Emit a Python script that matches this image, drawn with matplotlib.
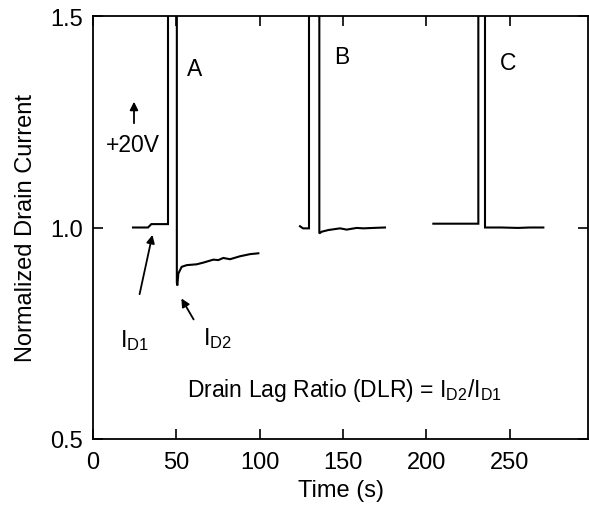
import matplotlib
matplotlib.use("Agg")
import matplotlib.pyplot as plt

plt.rcParams["font.family"] = ["Liberation Sans", "DejaVu Sans"]
plt.rcParams["mathtext.default"] = "regular"

# pulse A: baseline, +20V pulse (off scale), then slow recovery
t_a = [24, 33, 35, 45, 45, 50.3, 50.3, 50.6, 51.2, 53.2, 56.2, 62.2, 66.2,
       72.2, 75.2, 78.2, 82.2, 88.2, 94.2, 99.2]
v_a = [1.0, 1.0, 1.008, 1.008, 1.6, 1.6, 0.87, 0.863, 0.891, 0.907, 0.911,
       0.913, 0.917, 0.924, 0.923, 0.928, 0.925, 0.932, 0.937, 0.939]

# pulse B
t_b = [124.2, 126, 128.4, 129.6, 129.6, 135.8, 135.8, 137.2, 141.2, 148.2,
       152.2, 158.2, 162.2, 168.2, 175.2]
v_b = [1.003, 0.998, 0.998, 0.998, 1.6, 1.6, 0.986, 0.990, 0.994, 0.998,
       0.995, 0.999, 0.998, 0.999, 1.0]

# pulse C
t_c = [204.2, 231.2, 231.2, 235.2, 235.2, 245, 255, 262, 270.2]
v_c = [1.009, 1.009, 1.6, 1.6, 1.0, 1.0, 0.999, 1.0, 1.0]

x_ticks = [0, 50, 100, 150, 200, 250]
y_ticks = [0.5, 1.0, 1.5]

fig = plt.figure(figsize=(5.89, 5.06), dpi=100)
ax = fig.add_axes([93 / 589, 66 / 506, 495 / 589, 423 / 506])

for t, v in [(t_a, v_a), (t_b, v_b), (t_c, v_c)]:
    ax.plot(t, v, color="black", lw=1.5, solid_joinstyle="miter")

ax.set_xlim(0, 297)
ax.set_ylim(0.5, 1.5)
ax.set_xticks(x_ticks)
ax.set_yticks(y_ticks)
ax.set_yticklabels(["0.5", "1.0", "1.5"])
ax.tick_params(direction="in", top=True, right=True, length=7, width=1.2,
               labelsize=17, pad=7)
ax.tick_params(axis="x", pad=9)
for s in ax.spines.values():
    s.set_linewidth(1.3)

ax.set_xlabel("Time (s)", fontsize=17, labelpad=4)
ax.set_ylabel("Normalized Drain Current", fontsize=17, labelpad=10)

fs = 16.5
ax.text(61.2, 1.375, "A", fontsize=fs, ha="center", va="center")
ax.text(149.4, 1.405, "B", fontsize=fs, ha="center", va="center")
ax.text(249, 1.391, "C", fontsize=fs, ha="center", va="center")
ax.text(24, 1.197, "+20V", fontsize=fs, ha="center", va="center")

arrow = dict(arrowstyle="-|>", color="black", lw=1.3, mutation_scale=12)
ax.annotate("", xy=(24.6, 1.304), xytext=(24.6, 1.240), arrowprops=arrow)
ax.annotate("", xy=(36, 0.989), xytext=(27.6, 0.836), arrowprops=arrow)
ax.annotate("", xy=(52.2, 0.838), xytext=(61.2, 0.777), arrowprops=arrow)

ax.text(25.2, 0.736, "I$_{D1}$", fontsize=17, ha="center", va="center")
ax.text(75, 0.741, "I$_{D2}$", fontsize=17, ha="center", va="center")
ax.text(56.4, 0.616, "Drain Lag Ratio (DLR) = I$_{D2}$/I$_{D1}$",
        fontsize=16.5, ha="left", va="center")

fig.savefig("out.png", dpi=100)
